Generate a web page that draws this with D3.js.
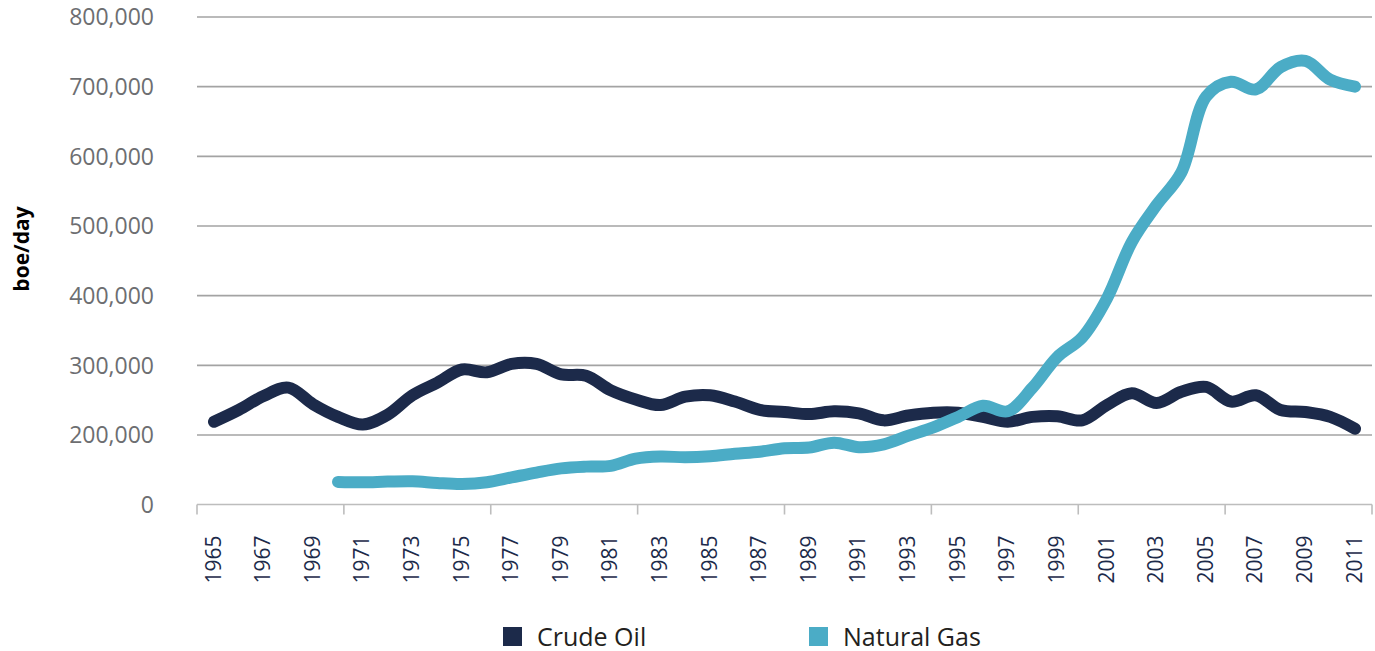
<!DOCTYPE html>
<html>
<head>
<meta charset="utf-8">
<script src="https://cdn.jsdelivr.net/npm/d3@7"></script>
<style>
  html, body { margin: 0; padding: 0; background: #fff; }
  svg { display: block; font-family: "Open Sans", "Noto Sans", sans-serif; }
</style>
</head>
<body>
<svg id="chart"></svg>
<script>
const years = [1965, 1966, 1967, 1968, 1969, 1970, 1971, 1972, 1973, 1974,
  1975, 1976, 1977, 1978, 1979, 1980, 1981, 1982, 1983, 1984,
  1985, 1986, 1987, 1988, 1989, 1990, 1991, 1992, 1993, 1994,
  1995, 1996, 1997, 1998, 1999, 2000, 2001, 2002, 2003, 2004,
  2005, 2006, 2007, 2008, 2009, 2010, 2011];

const crudeOil = [219000, 236000, 256000, 268000, 244000, 226000, 215000, 229000, 257000, 275000,
  294000, 290000, 302000, 302000, 287000, 285000, 264000, 251000, 243000, 255000,
  257000, 248000, 236000, 233000, 230000, 234000, 231000, 221000, 228000, 232000,
  232000, 226000, 219000, 226000, 227000, 221000, 243000, 260000, 246000, 262000,
  269000, 248000, 257000, 236000, 233000, 226000, 209000];

const naturalGas = [null, null, null, null, null, 65000, 64000, 66000, 67000, 62000,
  59000, 64000, 78000, 92000, 104000, 109000, 111000, 132000, 138000, 136000,
  139000, 146000, 152000, 162000, 164000, 178000, 165000, 173000, 198000, 211000,
  226000, 242000, 234000, 268000, 312000, 340000, 396000, 477000, 530000, 577000,
  686000, 707000, 696000, 728000, 737000, 710000, 700000];

const yTicks = [0, 200000, 300000, 400000, 500000, 600000, 700000, 800000];
const seriesNames = ['Crude Oil', 'Natural Gas'];
const seriesColors = ['#1c2a4a', '#4bacc6'];

const W = 1375, H = 651;
const margin = { top: 17, right: 3, bottom: 146.5, left: 197 };
const width = W - margin.left - margin.right;
const height = H - margin.top - margin.bottom;

const svg = d3.select('#chart').attr('width', W).attr('height', H);
const g = svg.append('g').attr('transform', `translate(${margin.left},${margin.top})`);

const x = d3.scalePoint()
  .domain(years)
  .range([0, width])
  .padding(0.685);

// axis labels jump from 0 to 200,000 with the same spacing as 100,000 steps above
const y = d3.scaleLinear()
  .domain([0, 200000, 800000])
  .range([height, height - 69.5, 0]);

// gridlines
g.append('g')
  .selectAll('line')
  .data(yTicks.filter(d => d > 0))
  .join('line')
  .attr('x1', 0)
  .attr('x2', width)
  .attr('y1', d => y(d))
  .attr('y2', d => y(d))
  .attr('stroke', '#a3a3a3')
  .attr('stroke-width', 1.6);

// y tick labels
g.append('g')
  .selectAll('text')
  .data(yTicks)
  .join('text')
  .attr('x', -43)
  .attr('y', d => y(d))
  .attr('dy', '0.36em')
  .attr('text-anchor', 'end')
  .attr('fill', '#6d6e71')
  .style('font-size', '23px')
  .text(d => d3.format(',')(d));

// bottom axis line with tick marks
const xAxis = g.append('g').attr('transform', `translate(0,${height})`);
xAxis.append('line')
  .attr('x1', 0)
  .attr('x2', width)
  .attr('stroke', '#bdbdbd')
  .attr('stroke-width', 1.6);
xAxis.selectAll('.tick')
  .data(d3.range(9).map(i => i * width / 8))
  .join('line')
  .attr('class', 'tick')
  .attr('x1', d => d)
  .attr('x2', d => d)
  .attr('y1', 0)
  .attr('y2', 10)
  .attr('stroke', '#bdbdbd')
  .attr('stroke-width', 1.6);

// year labels, every other year
xAxis.selectAll('.year')
  .data(years.filter((d, i) => i % 2 === 0))
  .join('text')
  .attr('class', 'year')
  .attr('transform', d => `translate(${x(d) - 1},31) rotate(-90)`)
  .attr('dy', '0.36em')
  .attr('text-anchor', 'end')
  .attr('fill', '#1c2a4a')
  .style('font-size', '21px')
  .text(d => d);

// y axis title
svg.append('text')
  .attr('transform', 'translate(21,249) rotate(-90)')
  .attr('dy', '0.36em')
  .attr('text-anchor', 'middle')
  .attr('fill', '#000')
  .style('font-size', '21px')
  .style('font-weight', 'bold')
  .text('boe/day');

// lines
const line = d3.line()
  .defined(d => d.v != null)
  .x(d => x(d.year))
  .y(d => y(d.v))
  .curve(d3.curveCatmullRom.alpha(0.5));

[crudeOil, naturalGas].forEach((vals, i) => {
  g.append('path')
    .datum(years.map((yr, j) => ({ year: yr, v: vals[j] })))
    .attr('fill', 'none')
    .attr('stroke', seriesColors[i])
    .attr('stroke-width', 12)
    .attr('stroke-linecap', 'round')
    .attr('stroke-linejoin', 'round')
    .attr('d', line);
});

// legend
const legendX = [503, 809];
const legend = svg.append('g');
seriesNames.forEach((name, i) => {
  legend.append('rect')
    .attr('x', legendX[i])
    .attr('y', 627)
    .attr('width', 19)
    .attr('height', 19)
    .attr('fill', seriesColors[i]);
  legend.append('text')
    .attr('x', legendX[i] + 34)
    .attr('y', 636.5)
    .attr('dy', '0.36em')
    .attr('fill', '#231f20')
    .style('font-size', '25px')
    .text(name);
});
</script>
</body>
</html>
